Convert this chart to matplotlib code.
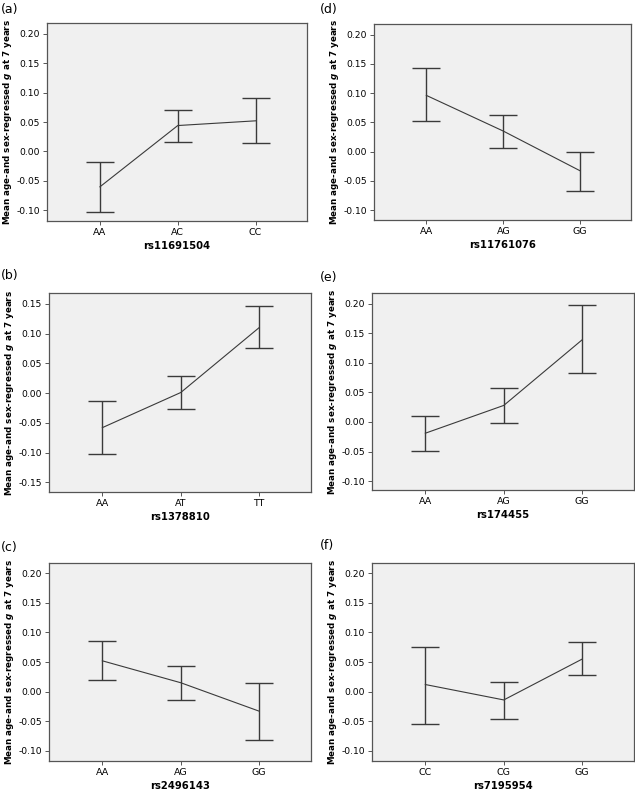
import matplotlib
matplotlib.use('agg')
import matplotlib.pyplot as plt

plt.rcParams['font.family'] = ['DejaVu Sans']

# data: mean, lower and upper CI per genotype
snps = ['rs11691504', 'rs1378810', 'rs2496143', 'rs11761076', 'rs174455', 'rs7195954']
panel_tags = ['(a)', '(b)', '(c)', '(d)', '(e)', '(f)']
genotypes = [['AA', 'AC', 'CC'], ['AA', 'AT', 'TT'], ['AA', 'AG', 'GG'],
             ['AA', 'AG', 'GG'], ['AA', 'AG', 'GG'], ['CC', 'CG', 'GG']]
means = [[-0.060, 0.044, 0.052],
         [-0.058, 0.001, 0.110],
         [0.052, 0.015, -0.033],
         [0.096, 0.035, -0.033],
         [-0.019, 0.028, 0.139],
         [0.012, -0.014, 0.055]]
ci_low = [[-0.102, 0.016, 0.015],
          [-0.103, -0.027, 0.075],
          [0.020, -0.014, -0.081],
          [0.052, 0.006, -0.067],
          [-0.049, -0.001, 0.082],
          [-0.054, -0.046, 0.028]]
ci_high = [[-0.018, 0.071, 0.090],
           [-0.014, 0.028, 0.146],
           [0.085, 0.043, 0.014],
           [0.142, 0.063, 0.000],
           [0.010, 0.058, 0.198],
           [0.076, 0.016, 0.083]]
yticks_list = [[-0.10, -0.05, 0.00, 0.05, 0.10, 0.15, 0.20],
               [-0.15, -0.10, -0.05, 0.00, 0.05, 0.10, 0.15],
               [-0.10, -0.05, 0.00, 0.05, 0.10, 0.15, 0.20],
               [-0.10, -0.05, 0.00, 0.05, 0.10, 0.15, 0.20],
               [-0.10, -0.05, 0.00, 0.05, 0.10, 0.15, 0.20],
               [-0.10, -0.05, 0.00, 0.05, 0.10, 0.15, 0.20]]
ylims = [(-0.118, 0.218), (-0.166, 0.168), (-0.117, 0.217),
         (-0.117, 0.218), (-0.115, 0.218), (-0.117, 0.217)]

W, H = 635, 793
fig = plt.figure(figsize=(W / 100, H / 100), dpi=100)

# axes boxes in pixels: left, right, top, bottom
boxes = [(47, 307, 23, 221), (49, 311, 293, 492), (49, 311, 563, 761),
         (374, 631, 24, 220), (372, 634, 293, 490), (372, 634, 563, 761)]
tag_pos = [(1, 10), (1, 276), (1, 547), (320, 10), (320, 277), (320, 546)]

ylab = r'Mean age-and sex-regressed $\mathbfit{g}$ at 7 years'
line_col = '#3a3a3a'

for i in range(6):
    l, r, t, b = boxes[i]
    ax = fig.add_axes([l / W, 1 - b / H, (r - l) / W, (b - t) / H])
    ax.set_facecolor('#f0f0f0')
    x = range(3)
    ax.plot(x, means[i], color=line_col, lw=0.8)
    lo = [m - c for m, c in zip(means[i], ci_low[i])]
    hi = [c - m for m, c in zip(means[i], ci_high[i])]
    ax.errorbar(x, means[i], yerr=[lo, hi], fmt='none', ecolor=line_col,
                elinewidth=1.0, capsize=10, capthick=1.0)
    ax.set_xlim(-0.68, 2.66)
    ax.set_ylim(*ylims[i])
    ax.set_xticks(list(x))
    ax.set_xticklabels(genotypes[i], fontsize=6.8)
    ax.set_yticks(yticks_list[i])
    ax.set_yticklabels(['%.2f' % v for v in yticks_list[i]], fontsize=6.6)
    ax.tick_params(length=3, width=0.7, color='#555555', pad=2)
    for s in ax.spines.values():
        s.set_color('#555555')
        s.set_linewidth(0.9)
    ax.set_xlabel(snps[i], fontsize=7.2, fontweight='bold', labelpad=3)
    ax.set_ylabel(ylab, fontsize=6.3, fontweight='bold', labelpad=2)
    fig.text(tag_pos[i][0] / W, 1 - tag_pos[i][1] / H, panel_tags[i],
             fontsize=9, va='center', ha='left')

fig.savefig('out.png', dpi=100)
